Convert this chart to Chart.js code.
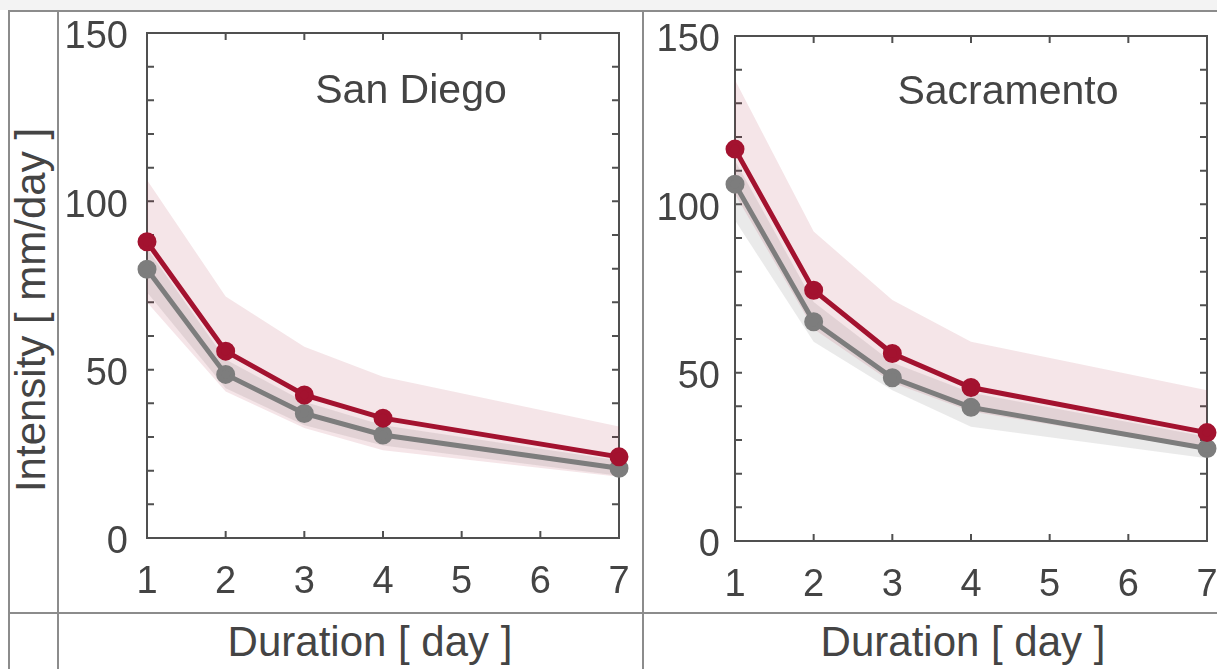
<!DOCTYPE html>
<html>
<head>
<meta charset="utf-8">
<script src="https://cdn.jsdelivr.net/npm/chart.js@4.4.1/dist/chart.umd.min.js"></script>
<style>
    body { margin: 0; width: 1217px; height: 669px; overflow: hidden; background: #fff; position: relative;
           font-family: "Liberation Sans", Arial, sans-serif; }
    .faixa-topo { position: absolute; left: 0; top: 0; width: 1217px; height: 10px; background: #f3f3f3; }
    .linha { position: absolute; background: #8c8c8c; z-index: 2; }
    canvas { position: absolute; top: 0; }
    .rotulo { position: absolute; font-size: 42px; line-height: 42px; color: #444; white-space: nowrap; }
</style>
</head>
<body>
<div class="faixa-topo"></div>
<div class="linha" style="left:8px; top:10px; width:1209px; height:2px"></div>
<div class="linha" style="left:8px; top:10px; width:2px; height:659px"></div>
<div class="linha" style="left:57px; top:10px; width:2px; height:659px"></div>
<div class="linha" style="left:642px; top:10px; width:2px; height:659px"></div>
<div class="linha" style="left:8px; top:612px; width:1209px; height:2px"></div>

<canvas id="graficoSanDiego" width="583" height="612" style="left:59px"></canvas>
<canvas id="graficoSacramento" width="600" height="612" style="left:644px"></canvas>

<div class="rotulo" style="left:31px; top:310px; transform: translate(-50%,-50%) rotate(-90deg)">Intensity [ mm/day ]</div>
<div class="rotulo" style="left:370px; top:621px; transform: translateX(-50%)">Duration [ day ]</div>
<div class="rotulo" style="left:963px; top:621px; transform: translateX(-50%)">Duration [ day ]</div>

<script>
// dados (intensidade em mm/day)
const duracoes = [1, 2, 3, 4, 7];
const ticksY = [0, 50, 100, 150];

const sanDiegoVermelho = [88.0, 55.5, 42.5, 35.6, 24.1];
const sanDiegoCinza = [79.8, 48.6, 37.0, 30.6, 20.7];
const sanDiegoVermelhoSup = [106.3, 71.7, 56.8, 47.9, 33.1];
const sanDiegoVermelhoInf = [70.0, 43.5, 32.7, 26.1, 18.2];
const sanDiegoCinzaSup = [86.0, 53.0, 40.5, 33.5, 23.0];
const sanDiegoCinzaInf = [73.0, 44.5, 33.5, 27.5, 18.5];

const sacramentoVermelho = [116.4, 74.5, 55.7, 45.6, 32.2];
const sacramentoCinza = [106.0, 65.1, 48.5, 39.7, 27.5];
const sacramentoVermelhoSup = [136.9, 91.9, 71.6, 59.2, 44.8];
const sacramentoVermelhoInf = [103.0, 63.0, 47.0, 38.5, 27.0];
const sacramentoCinzaSup = [113.0, 71.0, 53.0, 44.0, 31.0];
const sacramentoCinzaInf = [95.3, 59.2, 44.8, 33.9, 24.6];

const COR_VERMELHO = "#a3122f";
const COR_CINZA = "#7d7d7d";
const FAIXA_VERMELHA = "rgba(163, 18, 47, 0.11)";
const FAIXA_CINZA = "rgba(125, 125, 125, 0.16)";
const COR_EIXO = "#505050";
const COR_TEXTO = "#444";

function pontos(valores) {
    return duracoes.map((d, i) => ({ x: d, y: valores[i] }));
}

//caixa do eixo com ticks para dentro + titulo da cidade
const caixaPlugin = {
    id: "caixa",
    beforeDatasetsDraw(chart, args, opts) {
        const { ctx, chartArea: a, scales } = chart;
        const tam = 7;
        ctx.save();
        ctx.strokeStyle = COR_EIXO;
        ctx.lineWidth = 2;
        ctx.strokeRect(a.left, a.top, a.right - a.left, a.bottom - a.top);
        ctx.beginPath();
        for (let t of scales.x.ticks) {
            const px = scales.x.getPixelForValue(t.value);
            ctx.moveTo(px, a.bottom); ctx.lineTo(px, a.bottom - tam);
            ctx.moveTo(px, a.top); ctx.lineTo(px, a.top + tam);
        }
        for (let t of scales.y.ticks) {
            const py = scales.y.getPixelForValue(t.value);
            ctx.moveTo(a.left, py); ctx.lineTo(a.left + tam, py);
            ctx.moveTo(a.right, py); ctx.lineTo(a.right - tam, py);
        }
        ctx.stroke();

        ctx.fillStyle = COR_TEXTO;
        ctx.font = '41px "Liberation Sans", Arial, sans-serif';
        ctx.textAlign = "center";
        ctx.textBaseline = "alphabetic";
        ctx.fillText(opts.titulo, opts.tx, opts.ty);
        ctx.restore();
    }
};

//sem o padding extra que o chart.js coloca por causa dos labels
function semPadding(s) {
    s.paddingTop = 0;
    s.paddingBottom = 0;
    s.paddingLeft = 0;
    s.paddingRight = 0;
}

function criarGrafico(id, titulo, tx, ty, vermelho, cinza, vermSup, vermInf, cinzaSup, cinzaInf, caixa) {
    const ctx = document.getElementById(id).getContext("2d");
    const fonteTicks = { family: '"Liberation Sans", Arial, sans-serif', size: 38 };

    return new Chart(ctx, {
        type: "line",
        data: {
            datasets: [
                { data: pontos(vermelho), borderColor: COR_VERMELHO, backgroundColor: COR_VERMELHO,
                  borderWidth: 5, pointRadius: 7, fill: false, order: 0, clip: false },
                { data: pontos(cinza), borderColor: COR_CINZA, backgroundColor: COR_CINZA,
                  borderWidth: 5, pointRadius: 7, fill: false, order: 1, clip: false },
                { data: pontos(vermSup), borderColor: "transparent", borderWidth: 0, pointRadius: 0,
                  backgroundColor: FAIXA_VERMELHA, fill: 3, order: 2 },
                { data: pontos(vermInf), borderColor: "transparent", borderWidth: 0, pointRadius: 0,
                  fill: false, order: 2 },
                { data: pontos(cinzaSup), borderColor: "transparent", borderWidth: 0, pointRadius: 0,
                  backgroundColor: FAIXA_CINZA, fill: 5, order: 3 },
                { data: pontos(cinzaInf), borderColor: "transparent", borderWidth: 0, pointRadius: 0,
                  fill: false, order: 3 }
            ]
        },
        options: {
            responsive: false,
            animation: false,
            layout: { autoPadding: false, padding: { top: caixa.topo, right: caixa.direita, left: 0, bottom: 0 } },
            plugins: {
                legend: { display: false },
                tooltip: { enabled: false },
                caixa: { titulo, tx, ty }
            },
            scales: {
                x: {
                    type: "linear", min: 1, max: 7,
                    grid: { display: false, drawTicks: false },
                    border: { display: false },
                    ticks: { stepSize: 1, autoSkip: false, maxRotation: 0, padding: 22,
                             color: COR_TEXTO, font: fonteTicks },
                    afterFit: (s) => { s.height = caixa.alturaX; semPadding(s); }
                },
                y: {
                    type: "linear", min: 0, max: 150,
                    grid: { display: false, drawTicks: false },
                    border: { display: false },
                    ticks: { stepSize: 10, autoSkip: false, padding: caixa.padY, labelOffset: 5,
                             color: COR_TEXTO, font: fonteTicks,
                             callback: (v) => ticksY.includes(v) ? v : "" },
                    afterFit: (s) => { s.width = caixa.larguraY; semPadding(s); }
                }
            }
        },
        plugins: [caixaPlugin]
    });
}

criarGrafico("graficoSanDiego", "San Diego", 352, 103,
    sanDiegoVermelho, sanDiegoCinza, sanDiegoVermelhoSup, sanDiegoVermelhoInf, sanDiegoCinzaSup, sanDiegoCinzaInf,
    { topo: 33, direita: 23, alturaX: 74, larguraY: 88, padY: 19 });

criarGrafico("graficoSacramento", "Sacramento", 364, 104,
    sacramentoVermelho, sacramentoCinza, sacramentoVermelhoSup, sacramentoVermelhoInf, sacramentoCinzaSup, sacramentoCinzaInf,
    { topo: 36, direita: 37, alturaX: 71, larguraY: 91, padY: 15 });
</script>
</body>
</html>
